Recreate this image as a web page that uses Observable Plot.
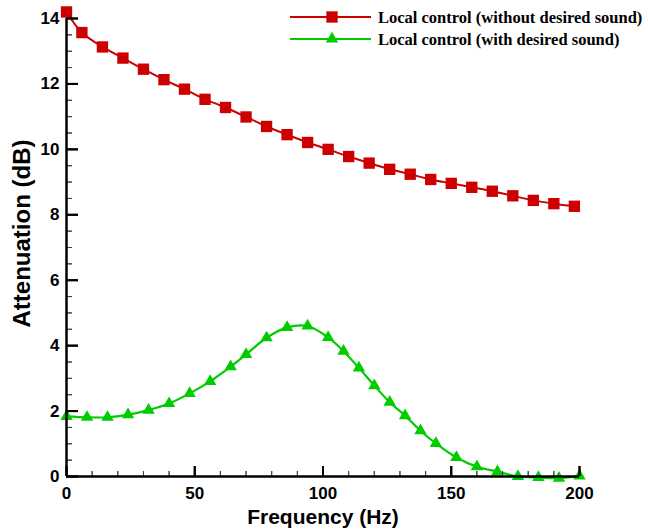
<!DOCTYPE html>
<html>
<head>
<meta charset="utf-8">
<script src="https://cdn.jsdelivr.net/npm/d3@7"></script>
<script src="https://cdn.jsdelivr.net/npm/@observablehq/plot@0.6"></script>
<style>
  body { margin: 0; background: #fff; }
  #chart { position: relative; width: 648px; height: 532px; }
  #legend { position: absolute; left: 0; top: 0; }
</style>
</head>
<body>
<div id="chart"></div>
<script>
// Attenuation of local control, with and without the desired sound
const seriesNames = [
  "Local control (without desired sound)",
  "Local control (with desired sound)"
];
const seriesColors = ["#cc0000", "#00cc00"];

const freqWithout = [0, 6, 14, 22, 30, 38, 46, 54, 62, 70, 78, 86, 94, 102, 110, 118, 126, 134, 142, 150, 158, 166, 174, 182, 190, 198];
const attenWithout = [14.2, 13.57, 13.13, 12.79, 12.45, 12.13, 11.84, 11.53, 11.28, 10.99, 10.70, 10.45, 10.21, 10.0, 9.78, 9.58, 9.39, 9.24, 9.08, 8.96, 8.84, 8.72, 8.58, 8.44, 8.34, 8.26];

const freqWith = [0, 8, 16, 24, 32, 40, 48, 56, 64, 70, 78, 86, 94, 102, 108, 114, 120, 126, 132, 138, 144, 152, 160, 168, 176, 184, 192, 200];
const attenWith = [1.84, 1.81, 1.81, 1.89, 2.03, 2.23, 2.54, 2.91, 3.36, 3.73, 4.24, 4.56, 4.60, 4.25, 3.83, 3.32, 2.78, 2.27, 1.86, 1.40, 1.01, 0.58, 0.30, 0.15, 0.0, -0.03, -0.05, 0.02];

// Axis ticks
const xMajorTicks = [0, 50, 100, 150, 200];
const yMajorTicks = [0, 2, 4, 6, 8, 10, 12, 14];
const xMinorTicks = d3.range(10, 200, 10).filter(v => v % 50 !== 0);
const yMinorTicks = d3.range(0.5, 14, 0.5).filter(v => v % 2 !== 0);

const W = 648, H = 532;
const M = {top: 18, right: 69, bottom: 56, left: 66};
const plotW = W - M.left - M.right;
const plotH = H - M.top - M.bottom;

const without = freqWithout.map((f, i) => ({f, a: attenWithout[i]}));
const withDesired = freqWith.map((f, i) => ({f, a: attenWith[i]}));

const sansFont = "Liberation Sans, Arial, Helvetica, sans-serif";
const serifFont = "Liberation Serif, Times New Roman, serif";
const noLabel = () => "";

const chart = Plot.plot({
  width: W, height: H,
  marginTop: M.top, marginRight: M.right, marginBottom: M.bottom, marginLeft: M.left,
  x: {domain: [0, 200]},
  y: {domain: [0, 14]},
  style: {fontFamily: sansFont, fontWeight: "bold", background: "white", color: "black", overflow: "visible"},
  marks: [
    // tick labels
    Plot.axisX({ticks: xMajorTicks, tickSize: 0, tickPadding: 10, fontSize: 17, label: null}),
    Plot.axisY({ticks: yMajorTicks, tickSize: 0, tickPadding: 7, fontSize: 17, label: null}),
    // axis titles
    Plot.text(["Frequency (Hz)"], {frameAnchor: "bottom", lineAnchor: "middle", textAnchor: "middle", dy: 41, fontSize: 21, fill: "black"}),
    Plot.text(["Attenuation (dB)"], {frameAnchor: "left", lineAnchor: "middle", textAnchor: "middle", rotate: -90, dx: -44, dy: -14, fontSize: 24, fill: "black"}),
    // series
    Plot.line(without, {x: "f", y: "a", stroke: seriesColors[0], strokeWidth: 2, curve: "catmull-rom"}),
    Plot.dot(without, {x: "f", y: "a", symbol: "square", r: 6.4, fill: seriesColors[0]}),
    Plot.line(withDesired, {x: "f", y: "a", stroke: seriesColors[1], strokeWidth: 2.2, curve: "catmull-rom"}),
    Plot.dot(withDesired, {x: "f", y: "a", symbol: "triangle", r: 4.6, fill: seriesColors[1]}),
    // inward tick marks (negative tick size points into the frame)
    Plot.axisX({ticks: xMinorTicks, tickSize: -5, tickFormat: noLabel, label: null, stroke: "#444", strokeWidth: 1}),
    Plot.axisX({ticks: xMajorTicks, tickSize: -10, tickFormat: noLabel, label: null, stroke: "black", strokeWidth: 2}),
    Plot.axisY({ticks: yMinorTicks, tickSize: -6, tickFormat: noLabel, label: null, stroke: "#444", strokeWidth: 1}),
    Plot.axisY({ticks: yMajorTicks, tickSize: -12, tickFormat: noLabel, label: null, stroke: "black", strokeWidth: 2}),
    Plot.ruleX(xMinorTicks, {x: d => d, insetTop: plotH - 5, stroke: "#444", strokeWidth: 1}),
    Plot.ruleX(xMajorTicks, {x: d => d, insetTop: plotH - 10, stroke: "black", strokeWidth: 2}),
    Plot.ruleY(yMinorTicks, {y: d => d, insetRight: plotW - 6, stroke: "#444", strokeWidth: 1}),
    Plot.ruleY(yMajorTicks, {y: d => d, insetRight: plotW - 12, stroke: "black", strokeWidth: 2}),
    // axis lines, drawn over the markers
    Plot.ruleY([0], {stroke: "black", strokeWidth: 2.5}),
    Plot.ruleX([0], {stroke: "black", strokeWidth: 2.5})
  ]
});

const container = document.getElementById("chart");
container.appendChild(chart);

// legend in the upper right corner
const legendSymbols = [d3.symbolSquare, d3.symbolTriangle];
const legendR = [6.4, 4.6];
const legend = d3.select(container).append("svg")
  .attr("id", "legend")
  .attr("width", W).attr("height", 60);
const rows = legend.selectAll("g").data(seriesNames).join("g")
  .attr("transform", (d, i) => `translate(0, ${17 + i * 22})`);
rows.append("line")
  .attr("x1", 290).attr("x2", 371)
  .attr("stroke", (d, i) => seriesColors[i])
  .attr("stroke-width", (d, i) => i ? 2.2 : 2);
rows.append("path")
  .attr("transform", "translate(332, 0)")
  .attr("d", (d, i) => d3.symbol(legendSymbols[i], Math.PI * legendR[i] * legendR[i])())
  .attr("fill", (d, i) => seriesColors[i]);
rows.append("text")
  .attr("x", 378)
  .attr("dy", "0.35em")
  .attr("font-family", serifFont)
  .attr("font-weight", "bold")
  .attr("font-size", 16.5)
  .text(d => d);
</script>
</body>
</html>
